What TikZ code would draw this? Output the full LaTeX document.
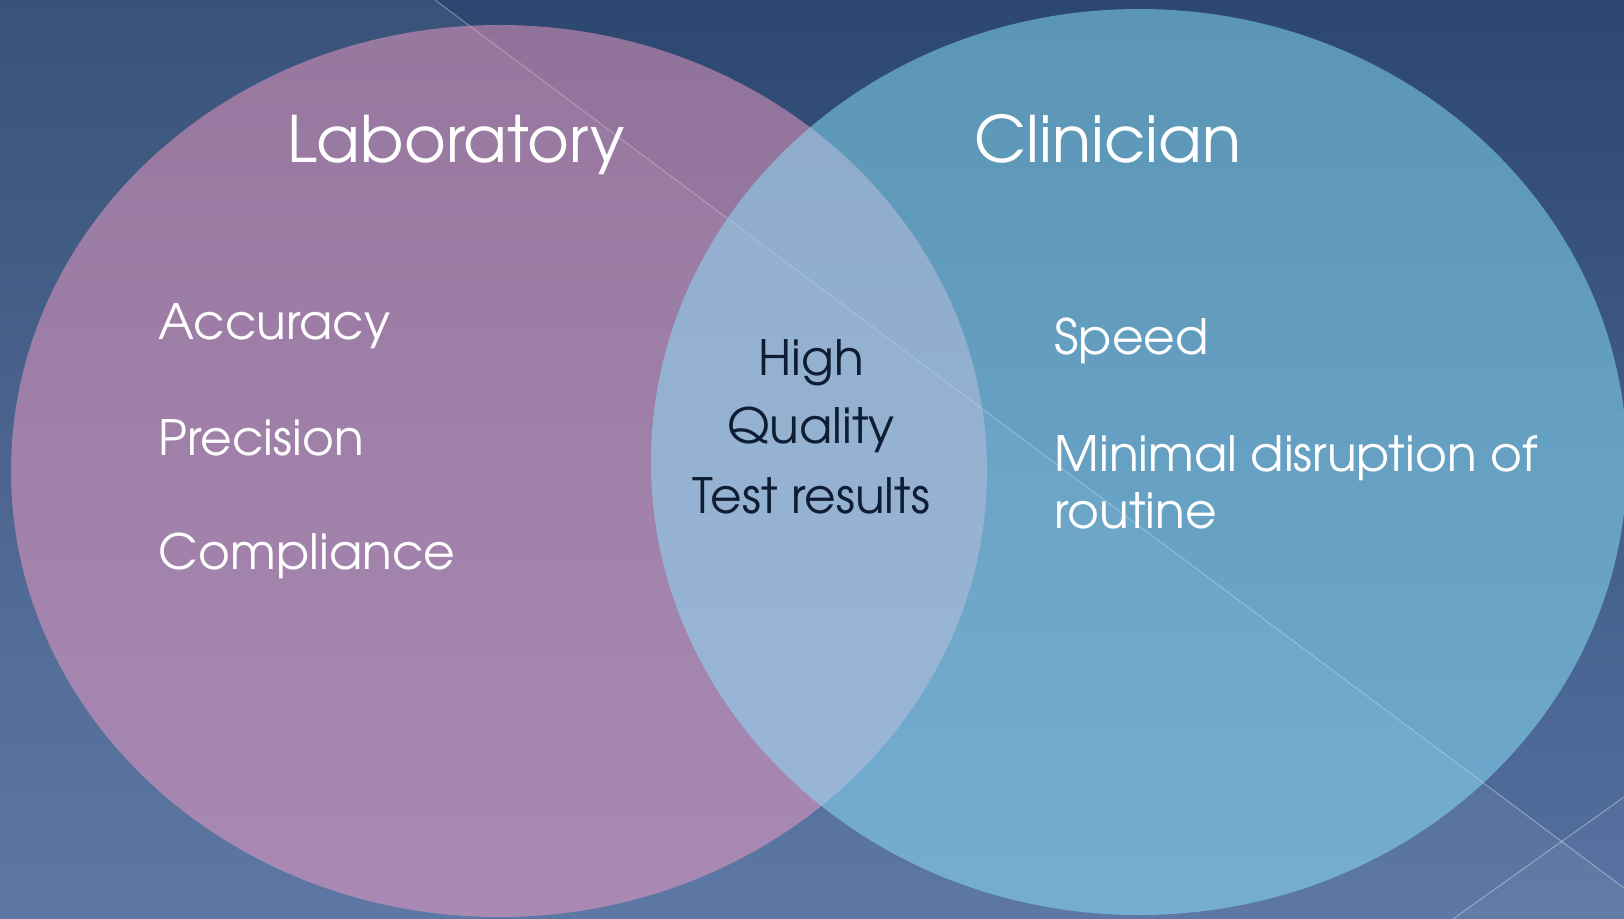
\documentclass[tikz,border=0pt]{standalone}
\usepackage{fontspec}
\setmainfont{texgyreadventor-regular.otf}
\usepackage{tikz}
\usetikzlibrary{positioning}
\definecolor{slidetop}{HTML}{2C4870}
\definecolor{slidebot}{HTML}{5470A0}
\definecolor{labpink}{HTML}{F59CC4}
\definecolor{clincyan}{HTML}{8CE4FC}
\definecolor{navytext}{HTML}{0E1C34}

\begin{document}
\begin{tikzpicture}[x=0.75pt, y=-0.75pt,
  heading/.style={text=white, anchor=base, font=\fontsize{48}{58}\selectfont},
  item/.style={text=white, anchor=base west, align=left,
               font=\fontsize{36.5}{42.75}\selectfont},
  shared/.style={text=navytext, anchor=base, align=center,
                 font=\fontsize{36.5}{51.75}\selectfont}]
  \useasboundingbox (0,0) rectangle (1624,919);
  % Slide background
  \shade[top color=slidetop, bottom color=slidebot] (0,0) rectangle (1624,919);
  \fill[white, opacity=0.06] (0,0) -- (435,0) -- (1624,888)
    -- (1624,919) -- (0,919) -- cycle;
  \fill[white, opacity=0.03] (1453,919) -- (1624,797) -- (1624,919) -- cycle;
  \draw[white, opacity=0.35, line width=0.75pt] (435,0) -- (1624,888);
  \draw[white, opacity=0.35, line width=0.75pt] (1453,919) -- (1624,797);
  % The two sets
  \fill[labpink, fill opacity=0.5] (499,471) ellipse [x radius=488, y radius=446];
  \fill[clincyan, fill opacity=0.5] (1139,462) ellipse [x radius=488, y radius=453];
  % Titles
  \node[heading] (lab) at (456,163) {Laboratory};
  \node[heading] (clin) at (1108,163) {Clinician};
  % Left set
  \node[item] (accuracy) at (154,340) {Accuracy};
  \node[item] (precision) at (154,456) {Precision};
  \node[item] (compliance) at (154,570) {Compliance};
  % Right set (multi-line nodes sit on their last baseline)
  \node[item] (speed) at (1050,355) {Speed};
  \node[item] (routine) at (1050,528) {Minimal disruption of\\routine};
  % Overlap
  \node[shared] (quality) at (811,513) {High\\Quality\\Test results};
\end{tikzpicture}
\end{document}
